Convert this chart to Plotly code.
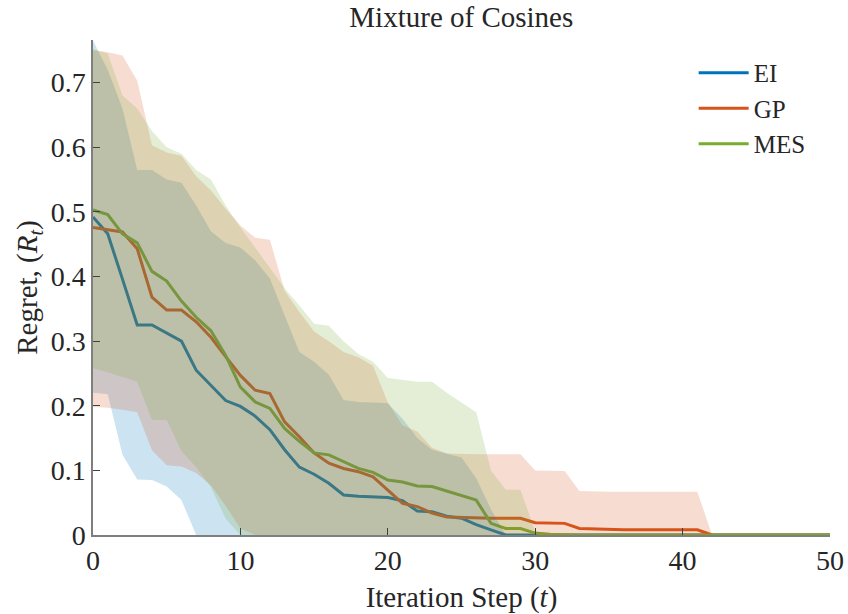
import plotly.graph_objects as go

# Iteration steps
steps = list(range(0, 51))

# Expected Improvement: mean regret and band limits
ei_mean = [0.492, 0.466, 0.396, 0.325, 0.325, 0.313, 0.300, 0.255, 0.231, 0.208,
           0.199, 0.184, 0.163, 0.132, 0.105, 0.094, 0.080, 0.062, 0.060, 0.059,
           0.058, 0.053, 0.037, 0.036, 0.029, 0.026, 0.016, 0.008, 0.000, 0.000,
           0.000, 0.000, 0.000, 0.000, 0.000, 0.000, 0.000, 0.000, 0.000, 0.000,
           0.000, 0.000, 0.000, 0.000, 0.000, 0.000, 0.000, 0.000, 0.000, 0.000,
           0.000]
ei_upper = [0.765, 0.720, 0.660, 0.565, 0.565, 0.550, 0.545, 0.510, 0.470, 0.452,
            0.445, 0.425, 0.397, 0.340, 0.283, 0.268, 0.248, 0.209, 0.206, 0.205,
            0.204, 0.180, 0.150, 0.132, 0.126, 0.120, 0.088, 0.040, 0.000, 0.000,
            0.000, 0.000, 0.000, 0.000, 0.000, 0.000, 0.000, 0.000, 0.000, 0.000,
            0.000, 0.000, 0.000, 0.000, 0.000, 0.000, 0.000, 0.000, 0.000, 0.000,
            0.000]
ei_lower = [0.220, 0.218, 0.124, 0.086, 0.085, 0.075, 0.054, 0.000, 0.000, 0.000,
            0.000, 0.000, 0.000, 0.000, 0.000, 0.000, 0.000, 0.000, 0.000, 0.000,
            0.000, 0.000, 0.000, 0.000, 0.000, 0.000, 0.000, 0.000, 0.000, 0.000,
            0.000, 0.000, 0.000, 0.000, 0.000, 0.000, 0.000, 0.000, 0.000, 0.000,
            0.000, 0.000, 0.000, 0.000, 0.000, 0.000, 0.000, 0.000, 0.000, 0.000,
            0.000]

# GP: mean regret and band limits
gp_mean = [0.476, 0.472, 0.469, 0.443, 0.368, 0.348, 0.348, 0.330, 0.306, 0.276,
           0.247, 0.224, 0.219, 0.175, 0.152, 0.127, 0.111, 0.103, 0.098, 0.090,
           0.069, 0.049, 0.044, 0.034, 0.028, 0.027, 0.026, 0.026, 0.026, 0.026,
           0.019, 0.018, 0.018, 0.010, 0.009, 0.009, 0.008, 0.008, 0.008, 0.008,
           0.008, 0.008, 0.000, 0.000, 0.000, 0.000, 0.000, 0.000, 0.000, 0.000,
           0.000]
gp_upper = [0.750, 0.747, 0.742, 0.703, 0.603, 0.592, 0.587, 0.555, 0.533, 0.505,
            0.479, 0.460, 0.457, 0.378, 0.345, 0.315, 0.300, 0.283, 0.275, 0.262,
            0.205, 0.170, 0.160, 0.135, 0.126, 0.125, 0.125, 0.125, 0.125, 0.125,
            0.100, 0.099, 0.099, 0.068, 0.067, 0.067, 0.067, 0.067, 0.067, 0.067,
            0.067, 0.067, 0.000, 0.000, 0.000, 0.000, 0.000, 0.000, 0.000, 0.000,
            0.000]
gp_lower = [0.198, 0.197, 0.194, 0.190, 0.131, 0.108, 0.106, 0.096, 0.077, 0.045,
            0.010, 0.000, 0.000, 0.000, 0.000, 0.000, 0.000, 0.000, 0.000, 0.000,
            0.000, 0.000, 0.000, 0.000, 0.000, 0.000, 0.000, 0.000, 0.000, 0.000,
            0.000, 0.000, 0.000, 0.000, 0.000, 0.000, 0.000, 0.000, 0.000, 0.000,
            0.000, 0.000, 0.000, 0.000, 0.000, 0.000, 0.000, 0.000, 0.000, 0.000,
            0.000]

# Max-value Entropy Search: mean regret and band limits
mes_mean = [0.503, 0.496, 0.466, 0.452, 0.408, 0.393, 0.362, 0.337, 0.316, 0.278,
            0.229, 0.206, 0.196, 0.165, 0.145, 0.127, 0.124, 0.113, 0.103, 0.097,
            0.085, 0.082, 0.076, 0.075, 0.068, 0.060, 0.054, 0.018, 0.010, 0.010,
            0.003, 0.001, 0.000, 0.000, 0.000, 0.000, 0.000, 0.000, 0.000, 0.000,
            0.000, 0.000, 0.000, 0.000, 0.000, 0.000, 0.000, 0.000, 0.000, 0.000,
            0.000]
mes_upper = [0.752, 0.745, 0.680, 0.660, 0.625, 0.600, 0.590, 0.565, 0.550, 0.510,
             0.476, 0.445, 0.413, 0.382, 0.355, 0.327, 0.324, 0.300, 0.280, 0.268,
             0.243, 0.240, 0.237, 0.237, 0.220, 0.205, 0.190, 0.100, 0.070, 0.070,
             0.005, 0.000, 0.000, 0.000, 0.000, 0.000, 0.000, 0.000, 0.000, 0.000,
             0.000, 0.000, 0.000, 0.000, 0.000, 0.000, 0.000, 0.000, 0.000, 0.000,
             0.000]
mes_lower = [0.258, 0.252, 0.245, 0.237, 0.178, 0.178, 0.130, 0.105, 0.074, 0.025,
             0.000, 0.000, 0.000, 0.000, 0.000, 0.000, 0.000, 0.000, 0.000, 0.000,
             0.000, 0.000, 0.000, 0.000, 0.000, 0.000, 0.000, 0.000, 0.000, 0.000,
             0.000, 0.000, 0.000, 0.000, 0.000, 0.000, 0.000, 0.000, 0.000, 0.000,
             0.000, 0.000, 0.000, 0.000, 0.000, 0.000, 0.000, 0.000, 0.000, 0.000,
             0.000]

methods = ["EI", "GP", "MES"]
colors = {"EI": (0, 114, 189), "GP": (217, 83, 25), "MES": (119, 172, 48)}
series = {
    "EI": (ei_mean, ei_upper, ei_lower),
    "GP": (gp_mean, gp_upper, gp_lower),
    "MES": (mes_mean, mes_upper, mes_lower),
}

FONT = "Liberation Serif"
TEXT = "#262626"
fig = go.Figure()

# Mean curves first, so the translucent bands sit on top of them
for name in methods:
    r, g, b = colors[name]
    fig.add_trace(go.Scatter(
        x=steps, y=series[name][0], mode="lines", name=name,
        line=dict(color=f"rgb({r},{g},{b})", width=3),
    ))

# Shaded spread bands
for name in methods:
    r, g, b = colors[name]
    _, upper, lower = series[name]
    fig.add_trace(go.Scatter(
        x=steps + steps[::-1], y=upper + lower[::-1],
        mode="lines", fill="toself", line=dict(width=0),
        fillcolor=f"rgba({r},{g},{b},0.2)",
        showlegend=False, hoverinfo="skip",
    ))

axis_common = dict(
    showgrid=False, zeroline=False, showline=True, linecolor="#7f7f7f",
    linewidth=1.5, ticks="inside", ticklen=7, tickwidth=1, tickcolor="#404040",
    tickfont=dict(family=FONT, size=28, color=TEXT), automargin=False,
)

fig.update_layout(
    width=848, height=614,
    margin=dict(l=93, r=18, t=40, b=79),
    paper_bgcolor="white", plot_bgcolor="white",
    title=dict(text="Mixture of Cosines", x=0.544, xanchor="center",
               y=0.973, yanchor="middle",
               font=dict(family=FONT, size=29, color=TEXT)),
    xaxis=dict(range=[0, 50], dtick=10,
               title=dict(text="Iteration Step (<i>t</i>)", standoff=11,
                          font=dict(family=FONT, size=29, color=TEXT)),
               **axis_common),
    yaxis=dict(range=[0, 0.766], dtick=0.1,
               title=dict(text="Regret, (<i>R</i><sub><i>t</i></sub>)", standoff=5,
                          font=dict(family=FONT, size=29, color=TEXT)),
               **axis_common),
    legend=dict(x=0.815, y=0.98, xanchor="left", yanchor="top",
                bgcolor="rgba(0,0,0,0)", borderwidth=0, itemwidth=50,
                font=dict(family=FONT, size=25, color=TEXT),
                tracegroupgap=0),
    showlegend=True,
)

fig.write_html("out.html")
